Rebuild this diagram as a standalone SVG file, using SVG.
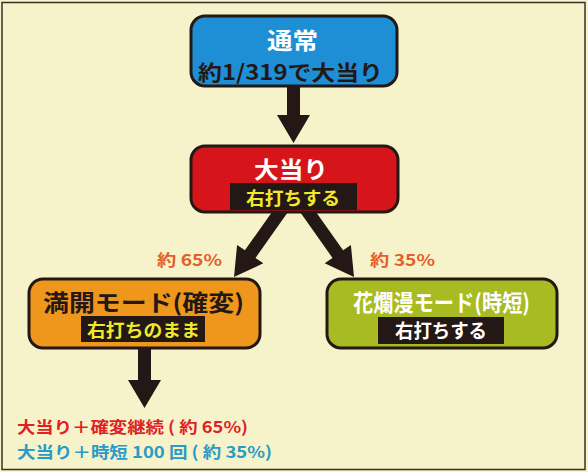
<svg xmlns="http://www.w3.org/2000/svg" width="588" height="472" viewBox="0 0 588 472">
<defs>
<style>
text{font-family:"Noto Sans CJK JP","Noto Sans",sans-serif;font-weight:bold;text-anchor:middle}
.node{stroke:#231815;stroke-width:3}
.lab{fill:#231815}
.arrow{fill:#231815}
.pct{fill:#e4602a;font-size:16px}
.w{fill:#ffffff}
.k{fill:#231815}
.y{fill:#f2e82a}
.res{font-size:16px;text-anchor:start}
</style>
</defs>
<rect x="0" y="0" width="588" height="472" fill="#f6f2c9"/>
<rect x="2" y="2.5" width="583" height="467" fill="none" stroke="#3a2e2a" stroke-width="1.5"/>
<g id="connectors">
<polygon class="arrow" points="287,80 300,80 300,115 310,115 293.5,143 277,115 287,115"/>
<polygon class="arrow" points="291.3,207.3 255.5,257.9 263.3,263.3 234,277 237.1,244.9 244.9,250.3 280.7,199.7"/>
<polygon class="arrow" points="296.7,207.3 332.5,257.9 324.7,263.3 354,277 350.9,244.9 343.1,250.3 307.3,199.7"/>
<polygon class="arrow" points="138,340 151,340 151,380 161,380 144.5,408 128,380 138,380"/>
<text class="pct" x="189.5" y="266" textLength="65" lengthAdjust="spacingAndGlyphs">約 65%</text>
<text class="pct" x="402.5" y="266" textLength="65" lengthAdjust="spacingAndGlyphs">約 35%</text>
</g>
<g id="normal">
<rect class="node" x="191" y="16" width="206" height="70" rx="14" fill="#1e8fd5"/>
<text class="w" x="292.5" y="49" font-size="23" textLength="51" lengthAdjust="spacingAndGlyphs">通常</text>
<text class="k" x="290.5" y="80" font-size="21" textLength="185" lengthAdjust="spacingAndGlyphs">約1/319で大当り</text>
</g>
<g id="jackpot">
<rect class="node" x="191" y="146" width="207" height="66" rx="14" fill="#d6151b"/>
<text class="w" x="291" y="178" font-size="23" textLength="74" lengthAdjust="spacingAndGlyphs">大当り</text>
<rect class="lab" x="230" y="183" width="127" height="27"/>
<text class="y" x="293" y="205" font-size="18" textLength="94" lengthAdjust="spacingAndGlyphs">右打ちする</text>
</g>
<g id="mankai">
<rect class="node" x="29" y="279" width="231" height="69" rx="14" fill="#ef961d"/>
<text class="k" x="143.5" y="310.5" font-size="23" textLength="201" lengthAdjust="spacingAndGlyphs">満開モード(確変)</text>
<rect class="lab" x="81" y="316" width="124" height="26"/>
<text class="y" x="143.5" y="337" font-size="18" textLength="113" lengthAdjust="spacingAndGlyphs">右打ちのまま</text>
</g>
<g id="ranman">
<rect class="node" x="327" y="279" width="230" height="69" rx="14" fill="#a9bb22"/>
<text class="w" x="441.5" y="310.5" font-size="23" textLength="177" lengthAdjust="spacingAndGlyphs">花爛漫モード(時短)</text>
<rect class="lab" x="378" y="317" width="126" height="27"/>
<text class="w" x="441" y="338" font-size="19" textLength="92" lengthAdjust="spacingAndGlyphs">右打ちする</text>
</g>
<g id="results">
<text class="res" x="17" y="433" fill="#e01f26" textLength="231" lengthAdjust="spacingAndGlyphs">大当り＋確変継続 ( 約 65%)</text>
<text class="res" x="17" y="458" fill="#2a9ac8" textLength="255" lengthAdjust="spacingAndGlyphs">大当り＋時短 100 回 ( 約 35%)</text>
</g>
</svg>
